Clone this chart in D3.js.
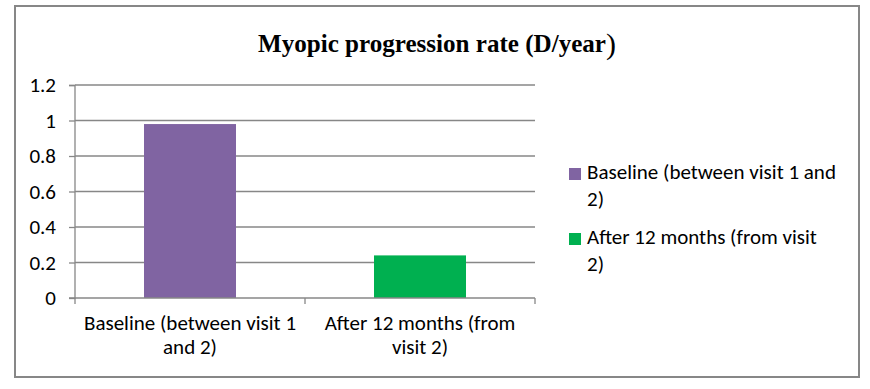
<!DOCTYPE html>
<html>
<head>
<meta charset="utf-8">
<script src="https://cdn.jsdelivr.net/npm/d3@7"></script>
<style>
  body { margin: 0; background: #fff; }
  text { font-family: Carlito, Lato, "Open Sans", sans-serif; fill: #000; }
</style>
</head>
<body>
<div id="chart"></div>
<script>
// chart data
const categories = ["Baseline (between visit 1 and 2)", "After 12 months (from visit 2)"];
const xLabelLines = [["Baseline (between visit 1", "and 2)"], ["After 12 months (from", "visit 2)"]];
const values = [0.98, 0.24];
const colors = ["#8064a2", "#00b050"];
const legendLines = [["Baseline (between visit 1 and", "2)"], ["After 12 months (from visit", "2)"]];
const yTicks = [0, 0.2, 0.4, 0.6, 0.8, 1, 1.2];

const width = 870, height = 389;
const margin = { top: 85, left: 75, right: 335, bottom: 91 };
const innerWidth = width - margin.left - margin.right;
const innerHeight = height - margin.top - margin.bottom;
const axisColor = "#878787";
const fontSize = "21px";

const svg = d3.select("#chart").append("svg")
  .attr("width", width)
  .attr("height", height);

// outer frame
svg.append("rect")
  .attr("x", 15).attr("y", 6)
  .attr("width", 844).attr("height", 371)
  .attr("fill", "none")
  .attr("stroke", axisColor)
  .attr("stroke-width", 2);

// title (the closing bracket is bigger in the original)
const title = svg.append("text")
  .attr("x", 258).attr("y", 52)
  .style("font-family", "'Liberation Serif', serif")
  .style("font-weight", "bold")
  .style("font-size", "25px");
title.append("tspan")
  .attr("textLength", 348)
  .attr("lengthAdjust", "spacingAndGlyphs")
  .text("Myopic progression rate (D/year");
title.append("tspan")
  .style("font-size", "30px")
  .style("font-weight", "normal")
  .attr("dy", 2)
  .text(")");

const g = svg.append("g")
  .attr("transform", `translate(${margin.left},${margin.top})`);

const x = d3.scaleBand()
  .domain(categories)
  .range([0, innerWidth])
  .paddingInner(0.6)
  .paddingOuter(0.3);

const y = d3.scaleLinear()
  .domain([0, 1.2])
  .range([innerHeight, 0]);

// gridlines
g.selectAll("line.grid")
  .data(yTicks.slice(1))
  .enter().append("line")
    .attr("class", "grid")
    .attr("x1", 0).attr("x2", innerWidth)
    .attr("y1", d => y(d)).attr("y2", d => y(d))
    .attr("stroke", axisColor)
    .attr("stroke-width", 1.3);

// bars
g.selectAll("rect.bar")
  .data(values)
  .enter().append("rect")
    .attr("class", "bar")
    .attr("x", (d, i) => x(categories[i]))
    .attr("y", d => y(d))
    .attr("width", x.bandwidth())
    .attr("height", d => innerHeight - y(d))
    .attr("fill", (d, i) => colors[i]);

// y axis
const yAxis = g.append("g")
  .call(d3.axisLeft(y).tickValues(yTicks).tickFormat(d3.format("")).tickSize(6).tickPadding(13));
yAxis.selectAll("path, line").attr("stroke", axisColor).attr("stroke-width", 1.3);
yAxis.select(".domain").attr("d", `M-6,0.5H0V${innerHeight}H-6`);
yAxis.selectAll("text").style("font-size", fontSize).attr("fill", "#000")
  .style("font-family", "Carlito, Lato, 'Open Sans', sans-serif");

// x axis with tick marks at category boundaries
const xAxis = g.append("g").attr("transform", `translate(0,${innerHeight})`);
xAxis.append("line")
  .attr("x1", 0).attr("x2", innerWidth)
  .attr("stroke", axisColor).attr("stroke-width", 1.3);
const step = innerWidth / categories.length;
xAxis.selectAll("line.tick")
  .data(d3.range(categories.length + 1))
  .enter().append("line")
    .attr("class", "tick")
    .attr("x1", d => d * step).attr("x2", d => d * step)
    .attr("y1", 0).attr("y2", 6)
    .attr("stroke", axisColor).attr("stroke-width", 1.3);

xAxis.selectAll("text.xlab")
  .data(categories)
  .enter().append("text")
    .attr("class", "xlab")
    .attr("x", d => x(d) + x.bandwidth() / 2)
    .attr("y", 32)
    .attr("text-anchor", "middle")
    .style("font-size", fontSize)
    .each(function(d, i) {
      const t = d3.select(this);
      xLabelLines[i].forEach((line, j) => {
        t.append("tspan")
          .attr("x", x(d) + x.bandwidth() / 2)
          .attr("dy", j === 0 ? 0 : 24)
          .text(line);
      });
    });

// legend
const legend = svg.append("g").attr("transform", "translate(569,168)");
const entries = legend.selectAll("g")
  .data(legendLines)
  .enter().append("g")
    .attr("transform", (d, i) => `translate(0,${i * 65})`);
entries.append("rect")
  .attr("width", 12).attr("height", 12)
  .attr("fill", (d, i) => colors[i]);
entries.append("text")
  .attr("x", 18).attr("y", 11)
  .style("font-size", fontSize)
  .each(function(d) {
    const t = d3.select(this);
    d.forEach((line, j) => {
      t.append("tspan").attr("x", 18).attr("dy", j === 0 ? 0 : 27).text(line);
    });
  });
</script>
</body>
</html>
